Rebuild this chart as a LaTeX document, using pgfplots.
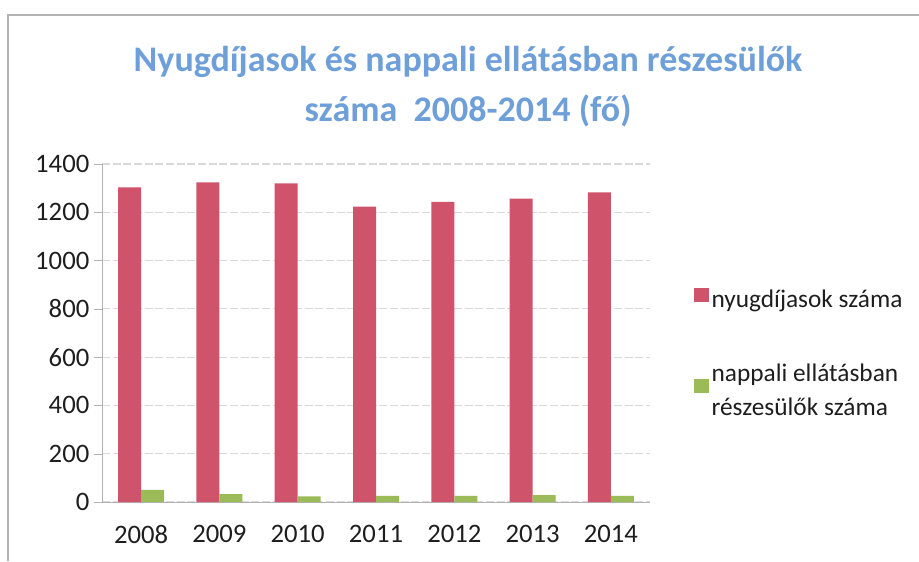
\documentclass[border=0pt]{standalone}
\usepackage{fontspec}
\setmainfont{Carlito}
\usepackage{pgfplots}
\pgfplotsset{compat=1.18}
\definecolor{barred}{HTML}{CF536B}
\definecolor{bargreen}{HTML}{9BBB59}
\definecolor{titleblue}{HTML}{6E9FD9}
\definecolor{txt}{HTML}{1E1E1E}

\begin{document}
\begin{tikzpicture}
% 1px = 0.75pt; picture is 919x561 px
\useasboundingbox (0pt,0pt) rectangle (689.25pt,420.75pt);
% chart frame (top and left edge visible)
\draw[gray!60, line width=1.2pt] (6pt,0pt) -- (6pt,409.5pt) -- (689.25pt,409.5pt);
\node[font=\bfseries\fontsize{27}{37.5}\selectfont, text=titleblue, align=center]
  at (351pt,355.5pt) {Nyugdíjasok és nappali ellátásban részesülők\\száma\ \ 2008-2014 (fő)};

\begin{axis}[
  at={(76.5pt,44.25pt)}, anchor=south west,
  scale only axis, width=411pt, height=253.5pt,
  ybar=0pt, bar width=17.25pt,
  ymin=0, ymax=1400, ytick={0,200,...,1400},
  xmin=-0.5, xmax=6.5,
  xtick={0,...,6},
  xticklabels={2008,2009,2010,2011,2012,2013,2014},
  major x tick style={draw=none},
  extra x ticks={0.5,1.5,...,5.5},
  extra x tick labels={},
  extra x tick style={major tick length=6pt, tick style={gray!60}},
  axis lines*=left,
  axis line style={gray!60},
  tick align=outside,
  ytick style={gray!60}, major tick length=6pt,
  ymajorgrids, grid style={gray!30, line width=0.8pt, dash pattern=on 6pt off 2pt},
  tick label style={font=\fontsize{20}{22}\selectfont, text=txt},
  /pgf/number format/assume math mode=true,
  /pgf/number format/1000 sep={},
  xticklabel style={yshift=-8pt},
  legend style={at={(1.073,0.644)}, anchor=north west, draw=none, fill=none,
    font=\fontsize{19}{25}\selectfont, text=txt,
    row sep=37pt, nodes={align=left, inner xsep=2pt}},
  legend cell align=left,
  legend image code/.code={\fill[#1] (0pt,-2pt) rectangle (11pt,9pt);},
]
\addplot[fill=barred, draw=none] coordinates {
(0,1303) (1,1324) (2,1320) (3,1223) (4,1243) (5,1257) (6,1282)};
\addlegendentry{nyugdíjasok száma}
\addplot[fill=bargreen, draw=none] coordinates {
(0,50) (1,33) (2,23) (3,25) (4,25) (5,29) (6,25)};
\addlegendentry{nappali ellátásban\\részesülők száma}
\end{axis}
\end{tikzpicture}
\end{document}
